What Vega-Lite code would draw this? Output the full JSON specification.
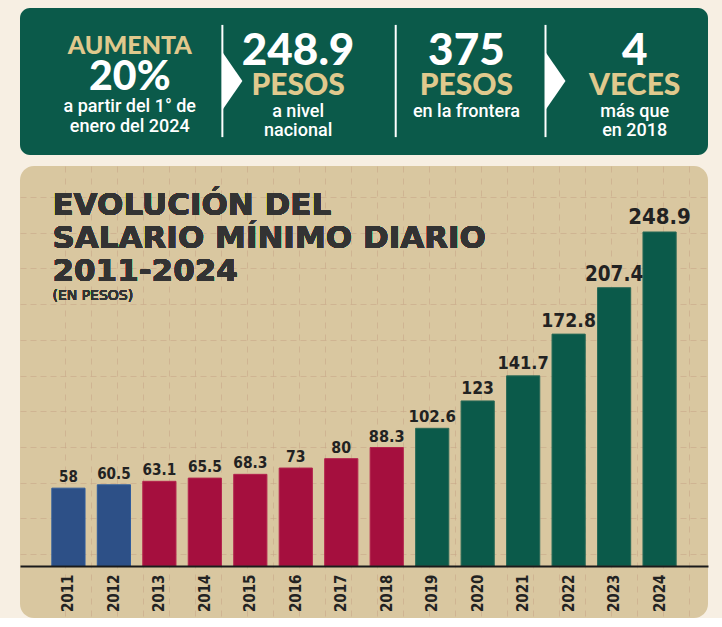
{
  "$schema": "https://vega.github.io/schema/vega-lite/v6.json",
  "background": "#f7efe3",
  "padding": {"left": 20, "top": 8, "right": 14, "bottom": 0},
  "config": {"view": {"stroke": null}, "concat": {"spacing": 11}},
  "datasets": {
    "banner": [
      {"col": 1, "tipo": "etiqueta", "texto": "AUMENTA"},
      {"col": 1, "tipo": "cifra", "texto": "20%"},
      {"col": 1, "tipo": "detalle", "texto": "a partir del 1° de\nenero del 2024"},
      {"col": 2, "tipo": "cifra", "texto": "248.9"},
      {"col": 2, "tipo": "etiqueta", "texto": "PESOS"},
      {"col": 2, "tipo": "detalle", "texto": "a nivel\nnacional"},
      {"col": 3, "tipo": "cifra", "texto": "375"},
      {"col": 3, "tipo": "etiqueta", "texto": "PESOS"},
      {"col": 3, "tipo": "detalle", "texto": "en la frontera"},
      {"col": 4, "tipo": "cifra", "texto": "4"},
      {"col": 4, "tipo": "etiqueta", "texto": "VECES"},
      {"col": 4, "tipo": "detalle", "texto": "más que\nen 2018"}
    ],
    "divisores": [
      {"pos": 1.55, "tipo": "flecha"},
      {"pos": 2.58, "tipo": "linea"},
      {"pos": 3.47, "tipo": "flecha"}
    ],
    "salario": [
      {"anio": "2011", "salario": 58, "periodo": "2007-2012"},
      {"anio": "2012", "salario": 60.5, "periodo": "2007-2012"},
      {"anio": "2013", "salario": 63.1, "periodo": "2013-2018"},
      {"anio": "2014", "salario": 65.5, "periodo": "2013-2018"},
      {"anio": "2015", "salario": 68.3, "periodo": "2013-2018"},
      {"anio": "2016", "salario": 73, "periodo": "2013-2018"},
      {"anio": "2017", "salario": 80, "periodo": "2013-2018"},
      {"anio": "2018", "salario": 88.3, "periodo": "2013-2018"},
      {"anio": "2019", "salario": 102.6, "periodo": "2019-2024"},
      {"anio": "2020", "salario": 123, "periodo": "2019-2024"},
      {"anio": "2021", "salario": 141.7, "periodo": "2019-2024"},
      {"anio": "2022", "salario": 172.8, "periodo": "2019-2024"},
      {"anio": "2023", "salario": 207.4, "periodo": "2019-2024"},
      {"anio": "2024", "salario": 248.9, "periodo": "2019-2024"}
    ]
  },
  "vconcat": [
    {
      "width": 688,
      "height": 147,
      "view": {"fill": "#0b5a4a", "cornerRadius": 10, "stroke": null},
      "layer": [
        {
          "data": {"name": "divisores"},
          "mark": {"type": "rule", "color": "#ffffff", "strokeWidth": 2},
          "encoding": {
            "x": {"field": "pos", "type": "quantitative", "scale": {"domain": [0.3476, 4.4355], "nice": false, "zero": false}, "axis": null},
            "y": {"datum": 0.69, "type": "quantitative", "scale": {"domain": [0, 6], "reverse": true, "nice": false, "zero": false}, "axis": null},
            "y2": {"datum": 5.27}
          }
        },
        {
          "data": {"name": "divisores"},
          "transform": [{"filter": "datum.tipo === 'flecha'"}],
          "mark": {"type": "point", "shape": "M0,-1L0.69,0L0,1Z", "filled": true, "opacity": 1, "color": "#ffffff", "size": 3364, "strokeWidth": 0},
          "encoding": {
            "x": {"field": "pos", "type": "quantitative", "axis": null},
            "y": {"datum": 2.98, "type": "quantitative", "axis": null}
          }
        },
        {
          "data": {"name": "banner"},
          "transform": [{"filter": "datum.col === 1 && datum.tipo === 'etiqueta'"}],
          "mark": {"type": "text", "font": "Lato", "fontWeight": 900, "fontSize": 25, "color": "#e0c98d", "align": "center", "baseline": "middle"},
          "encoding": {
            "x": {"field": "col", "type": "quantitative", "axis": null},
            "y": {"datum": 1.55, "type": "quantitative", "axis": null},
            "text": {"field": "texto"}
          }
        },
        {
          "data": {"name": "banner"},
          "transform": [{"filter": "datum.col === 1 && datum.tipo === 'cifra'"}],
          "mark": {"type": "text", "font": "Lato", "fontWeight": 900, "fontSize": 41, "color": "#ffffff", "align": "center", "baseline": "middle"},
          "encoding": {
            "x": {"field": "col", "type": "quantitative", "axis": null},
            "y": {"datum": 2.86, "type": "quantitative", "axis": null},
            "text": {"field": "texto"}
          }
        },
        {
          "data": {"name": "banner"},
          "transform": [{"filter": "datum.col === 1 && datum.tipo === 'detalle'"}],
          "mark": {"type": "text", "font": "Roboto", "fontWeight": 500, "fontSize": 18, "lineHeight": 20, "lineBreak": "\n", "color": "#ffffff", "align": "center", "baseline": "top"},
          "encoding": {
            "x": {"field": "col", "type": "quantitative", "axis": null},
            "y": {"datum": 3.66, "type": "quantitative", "axis": null},
            "text": {"field": "texto"}
          }
        },
        {
          "data": {"name": "banner"},
          "transform": [{"filter": "datum.col > 1 && datum.tipo === 'cifra'"}],
          "mark": {"type": "text", "font": "Lato", "fontWeight": 900, "fontSize": 44, "color": "#ffffff", "align": "center", "baseline": "middle"},
          "encoding": {
            "x": {"field": "col", "type": "quantitative", "axis": null},
            "y": {"datum": 1.79, "type": "quantitative", "axis": null},
            "text": {"field": "texto"}
          }
        },
        {
          "data": {"name": "banner"},
          "transform": [{"filter": "datum.col > 1 && datum.tipo === 'etiqueta'"}],
          "mark": {"type": "text", "font": "Lato", "fontWeight": 900, "fontSize": 30, "color": "#e0c98d", "align": "center", "baseline": "middle"},
          "encoding": {
            "x": {"field": "col", "type": "quantitative", "axis": null},
            "y": {"datum": 3.2, "type": "quantitative", "axis": null},
            "text": {"field": "texto"}
          }
        },
        {
          "data": {"name": "banner"},
          "transform": [{"filter": "datum.col > 1 && datum.tipo === 'detalle'"}],
          "mark": {"type": "text", "font": "Roboto", "fontWeight": 500, "fontSize": 18, "lineHeight": 19, "lineBreak": "\n", "color": "#ffffff", "align": "center", "baseline": "top"},
          "encoding": {
            "x": {"field": "col", "type": "quantitative", "axis": null},
            "y": {"datum": 3.88, "type": "quantitative", "axis": null},
            "text": {"field": "texto"}
          }
        }
      ]
    },
    {
      "width": 688,
      "height": 452,
      "view": {"fill": "#d9c7a0", "cornerRadius": 14, "stroke": null},
      "data": {"name": "salario"},
      "layer": [
        {
          "mark": {"type": "point", "opacity": 0},
          "encoding": {
            "x": {
              "datum": 0,
              "type": "quantitative",
              "scale": {"domain": [-1.73, 24.73], "nice": false, "zero": false},
              "axis": {"orient": "top", "values": [0, 1, 2, 3, 4, 5, 6, 7, 8, 9, 10, 11, 12, 13, 14, 15, 16, 17, 18, 19, 20, 21, 22, 23, 24], "labels": false, "ticks": false, "domain": false, "title": null, "grid": true, "gridColor": "#c8a688", "gridOpacity": 0.6, "gridDash": [6, 6], "gridWidth": 1}
            }
          }
        },
        {
          "layer": [
            {
              "mark": {"type": "bar", "strokeWidth": 1},
              "encoding": {
                "x": {
                  "field": "anio",
                  "type": "nominal",
                  "sort": null,
                  "scale": {"paddingInner": 0.27, "paddingOuter": 0.7},
                  "axis": {"orient": "bottom", "offset": -52, "title": null, "ticks": false, "labelAngle": 270, "labelAlign": "right", "labelBaseline": "middle", "labelFont": "DejaVu Sans Condensed", "labelFontWeight": "bold", "labelFontSize": 15, "labelColor": "#222222", "labelPadding": 8, "domainColor": "#1a1a1a", "domainWidth": 2, "grid": false, "zindex": 1}
                },
                "y": {
                  "field": "salario",
                  "type": "quantitative",
                  "scale": {"domain": [-38.75, 298.08], "nice": false, "zero": false},
                  "axis": {"orient": "left", "values": [8.9, 35.5, 62.1, 88.7, 115.3, 141.9, 168.5, 195.1, 221.7, 248.3, 274.9], "labels": false, "ticks": false, "domain": false, "title": null, "grid": true, "gridColor": "#c8a688", "gridOpacity": 0.6, "gridDash": [6, 4], "gridWidth": 1, "zindex": 0}
                },
                "y2": {"datum": 0},
                "color": {"field": "periodo", "type": "nominal", "scale": {"domain": ["2007-2012", "2013-2018", "2019-2024"], "range": ["#2d5087", "#a50f3e", "#0b5a4a"]}, "legend": null},
                "stroke": {"field": "periodo", "type": "nominal", "scale": {"domain": ["2007-2012", "2013-2018", "2019-2024"], "range": ["#2f5c9c", "#b3244d", "#2a6a57"]}, "legend": null}
              }
            },
            {
              "mark": {"type": "text", "baseline": "bottom", "align": "center", "dy": -3, "font": "DejaVu Sans Condensed", "fontWeight": "bold", "color": "#222222"},
              "encoding": {
                "x": {"field": "anio", "type": "nominal", "sort": null},
                "y": {"field": "salario", "type": "quantitative"},
                "text": {"field": "salario", "type": "quantitative"},
                "size": {"field": "salario", "type": "quantitative", "scale": {"domain": [58, 248.9], "range": [15, 22]}, "legend": null}
              }
            },
            {
              "mark": {"type": "text", "align": "left", "baseline": "alphabetic", "font": "DejaVu Sans", "fontWeight": "bold", "fontSize": 31, "lineHeight": 33, "color": "#333333", "xOffset": -16},
              "encoding": {
                "x": {"datum": "2011"},
                "y": {"datum": 261.6},
                "text": {"value": ["EVOLUCIÓN DEL", "SALARIO MÍNIMO DIARIO", "2011-2024"]}
              }
            },
            {
              "mark": {"type": "text", "align": "left", "baseline": "alphabetic", "font": "DejaVu Sans", "fontSize": 14, "color": "#333333", "xOffset": -16},
              "encoding": {
                "x": {"datum": "2011"},
                "y": {"datum": 198.5},
                "text": {"value": "(EN PESOS)"}
              }
            }
          ]
        }
      ],
      "resolve": {"scale": {"x": "independent"}}
    }
  ]
}
